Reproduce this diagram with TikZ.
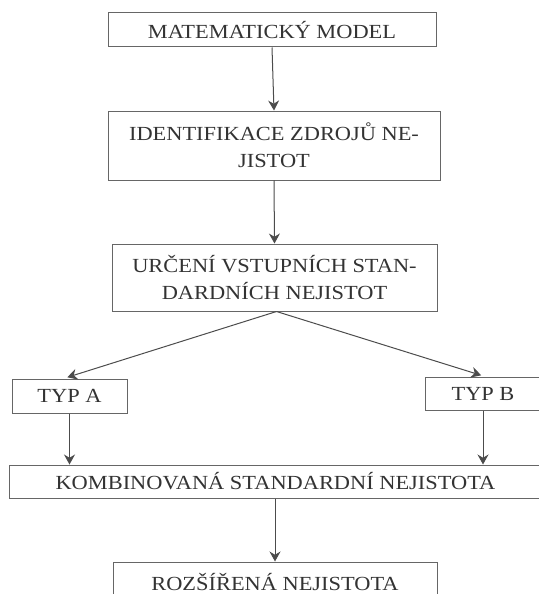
\documentclass[tikz,border=0pt]{standalone}
\usepackage{fontspec}
\setmainfont{Liberation Serif}[FakeStretch=1.12]
\usepackage{tikz}
\usetikzlibrary{arrows.meta,positioning,calc}

\tikzset{
  box/.style={draw=black!60, line width=1pt, text=black!80, inner sep=0pt,
    align=center, font=\fontsize{20}{27}\selectfont},
  arr/.style={draw=black!70, line width=1pt, -{Stealth[length=10pt,width=11pt]}}
}

\begin{document}
\begin{tikzpicture}[x=1pt,y=-1pt]
    \useasboundingbox (0,0) rectangle (538,594);

    \node [box, minimum width=328, minimum height=34] (model) at (272,30) {MATEMATICKÝ MODEL};
    \node [box, minimum width=332, minimum height=69] (ident) at (274,145.5) {IDENTIFIKACE ZDROJŮ NE-\\JISTOT};
    \node [box, minimum width=325, minimum height=67] (urceni) at (274.5,277.5) {URČENÍ VSTUPNÍCH STAN-\\DARDNÍCH NEJISTOT};
    \node [box, minimum width=115, minimum height=34] (typA) at (69.5,396) {TYP A};
    \node [box, minimum width=116, minimum height=33] (typB) at (483,393.5) {TYP B};
    \node [box, minimum width=533, minimum height=33] (komb) at (275.5,481.5) {KOMBINOVANÁ STANDARDNÍ NEJISTOTA};
    \node [box, minimum width=324, minimum height=40] (rozs) at (275,582) {ROZŠÍŘENÁ NEJISTOTA};

    \draw [arr] (model.south) -- (ident.north);
    \draw [arr] (ident.south) -- (urceni.north);
    \draw [arr, shorten >=4pt] ([xshift=2pt]urceni.south) -- ([xshift=-6pt]typA.north);
    \draw [arr, shorten >=4pt] ([xshift=2pt]urceni.south) -- ([xshift=2pt]typB.north);
    \draw [arr] (typA.south) -- (typA.south |- komb.north);
    \draw [arr] (typB.south) -- (typB.south |- komb.north);
    \draw [arr] (rozs.north |- komb.south) -- (rozs.north);
  \end{tikzpicture}
\end{document}
